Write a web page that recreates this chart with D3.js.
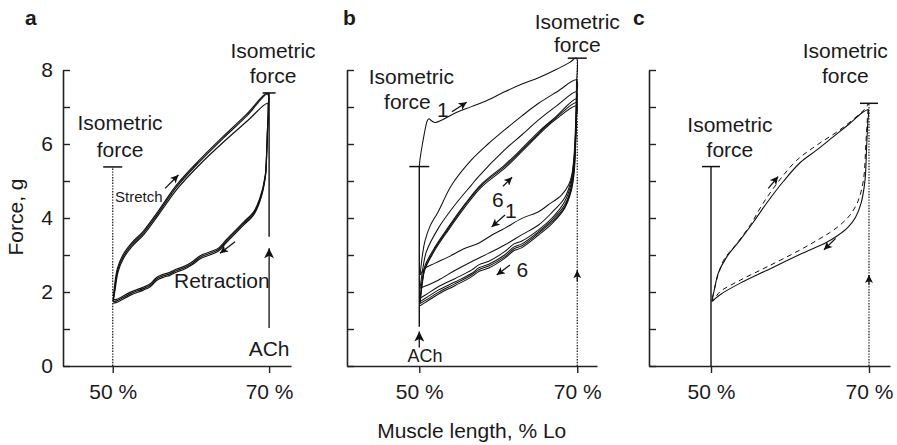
<!DOCTYPE html>
<html>
<head>
<meta charset="utf-8">
<script src="https://cdnjs.cloudflare.com/ajax/libs/d3/7.8.5/d3.min.js"></script>
<style>
    body { margin: 0; background: #fff; }
    svg text { font-family: "Liberation Sans", Arial, Helvetica, sans-serif; fill: #1a1a1a; }
</style>
</head>
<body>
<div id="chart"></div>
<script>
// muscle length (% Lo) / force (g) pairs
var xTicks = [50, 70];
var yTicks = [0, 1, 2, 3, 4, 5, 6, 7, 8];
var yLabels = [0, 2, 4, 6, 8];

// panel a: three superimposed stretch / retraction loops
var aLoop1 = [[50.05,1.74],[50.2,2.1],[50.6,2.64],[51.3,3.0],[52.4,3.32],[53.9,3.64],[55.8,4.18],[58.2,4.9],[61.1,5.57],[64.1,6.2],[67.1,6.8],[69.8,7.38],
    [69.9,7.0],[69.8,6.4],[69.7,5.8],[69.5,5.08],[68.8,4.44],[68.0,4.08],[66.7,3.8],[64.6,3.35],[63.6,3.12],[62.9,3.04],[61.2,2.9],[60.2,2.74],[59.0,2.6],[58.2,2.54],[57.3,2.45],[56.5,2.4],[55.6,2.31],[54.8,2.14],[53.9,2.05],[52.2,1.91],[50.5,1.72],[50.05,1.7]];
var aLoop2 = [[50.05,1.76],[50.25,2.08],[50.65,2.6],[51.35,2.96],[52.45,3.28],[53.95,3.6],[55.85,4.14],[58.25,4.86],[61.15,5.53],[64.15,6.16],[67.15,6.76],[69.8,7.35],
    [69.9,6.95],[69.8,6.4],[69.7,5.82],[69.5,5.1],[68.8,4.48],[68.0,4.12],[66.7,3.84],[64.6,3.39],[63.6,3.16],[62.9,3.08],[61.2,2.94],[60.2,2.78],[59.0,2.64],[58.2,2.58],[57.3,2.49],[56.5,2.44],[55.6,2.35],[54.8,2.18],[53.9,2.09],[52.2,1.95],[50.5,1.76],[50.05,1.74]];
var aLoop3 = [[50.1,1.8],[50.3,2.06],[50.7,2.56],[51.4,2.92],[52.5,3.24],[54.0,3.56],[55.9,4.1],[58.3,4.8],[61.2,5.46],[64.2,6.06],[67.2,6.62],[69.8,7.1],
    [69.9,6.9],[69.8,6.4],[69.7,5.84],[69.5,5.14],[68.8,4.52],[68.0,4.16],[66.7,3.88],[64.6,3.43],[63.6,3.2],[62.9,3.12],[61.2,2.98],[60.2,2.82],[59.0,2.68],[58.2,2.62],[57.3,2.53],[56.5,2.48],[55.6,2.39],[54.8,2.22],[53.9,2.13],[52.2,1.99],[50.5,1.8],[50.1,1.8]];

// panel b: six successive loops (1 = first stretch from isometric force)
var bLoop1 = [[50,5.39],[50.1,5.6],[50.4,6.0],[50.7,6.35],[51.0,6.62],[51.2,6.68],[51.6,6.62],[52.0,6.58],[52.8,6.64],[54.5,6.83],[56.6,7.01],[58.7,7.19],[60.8,7.41],[63.0,7.62],[65.1,7.79],[67.2,8.0],[69.0,8.2],[69.9,8.32],
    [69.9,7.6],[69.8,6.6],[69.6,5.7],[69.3,5.15],[68.9,4.89],[68.0,4.62],[66.3,4.35],[65.1,4.17],[63.0,3.99],[60.8,3.72],[59.2,3.54],[57.5,3.32],[55.8,3.18],[53.7,2.95],[52.0,2.78],[50.7,2.64],[50.1,2.46]];
var bLoop2 = [[50.1,2.46],[50.4,3.0],[50.7,3.36],[51.4,3.8],[52.4,4.17],[54.1,4.89],[56.6,5.57],[58.7,6.0],[60.8,6.38],[63.0,6.76],[65.1,7.1],[67.5,7.42],[69.9,7.73],
    [69.9,7.2],[69.8,6.4],[69.6,5.6],[69.2,5.0],[68.4,4.54],[66.8,4.15],[65.1,3.81],[63.0,3.55],[60.8,3.27],[58.8,3.05],[56.6,2.82],[54.5,2.58],[52.4,2.32],[51.0,2.18],[50.1,2.1]];
var bLoop3 = [[50.1,2.1],[50.5,2.7],[50.9,3.09],[52.4,3.72],[54.5,4.35],[56.6,4.89],[57.5,5.12],[60.8,5.84],[63.0,6.25],[65.1,6.65],[67.5,7.05],[69.9,7.41],
    [69.9,7.0],[69.8,6.3],[69.6,5.5],[69.2,4.9],[68.4,4.44],[66.8,4.0],[65.1,3.68],[63.0,3.38],[62.0,3.3],[60.8,3.09],[58.8,2.83],[57.6,2.74],[56.6,2.59],[54.5,2.36],[52.4,2.14],[51.0,1.95],[50.1,1.83]];
var bLoop4 = [[50.1,1.83],[50.4,2.35],[50.7,2.7],[52.0,3.22],[53.7,3.76],[55.8,4.38],[57.9,4.92],[60.8,5.43],[63.0,5.88],[65.1,6.33],[67.2,6.72],[69.9,7.22],
    [69.9,6.9],[69.8,6.2],[69.6,5.4],[69.2,4.8],[68.4,4.35],[66.8,3.95],[65.1,3.63],[63.0,3.3],[62.0,3.22],[60.8,3.0],[58.8,2.75],[57.6,2.66],[56.6,2.5],[54.5,2.27],[52.4,2.05],[51.0,1.86],[50.1,1.74]];
var bLoop5 = [[50.1,1.74],[50.4,2.3],[50.7,2.64],[52.0,3.18],[53.7,3.72],[55.8,4.35],[57.9,4.89],[60.8,5.39],[63.0,5.84],[65.1,6.29],[67.2,6.69],[69.9,7.12],
    [69.9,6.8],[69.8,6.1],[69.6,5.3],[69.2,4.75],[68.4,4.3],[66.8,3.9],[65.1,3.59],[63.0,3.25],[62.0,3.17],[60.8,2.95],[58.8,2.7],[57.6,2.61],[56.6,2.46],[54.5,2.22],[52.4,1.99],[51.0,1.8],[50.1,1.69]];
var bLoop6 = [[50.1,1.69],[50.4,2.25],[50.7,2.6],[52.0,3.14],[53.7,3.68],[55.8,4.3],[57.9,4.84],[60.8,5.34],[63.0,5.8],[65.1,6.25],[67.2,6.65],[69.9,7.03],
    [69.9,6.7],[69.8,6.0],[69.6,5.2],[69.2,4.7],[68.4,4.26],[66.8,3.85],[65.1,3.54],[63.0,3.2],[62.0,3.12],[60.8,2.91],[58.8,2.65],[57.6,2.56],[56.6,2.41],[54.5,2.17],[52.4,1.94],[51.0,1.75],[50.1,1.63]];

// panel c: solid and dashed loop
var cSolid = [[50.1,1.74],[50.5,2.14],[50.9,2.5],[52.0,2.95],[53.7,3.41],[55.4,3.9],[57.1,4.42],[59.2,5.0],[61.3,5.5],[63.4,5.84],[65.5,6.2],[67.6,6.56],[69.3,6.87],[69.9,6.92],
    [69.85,6.6],[69.7,5.93],[69.5,5.03],[69.0,4.4],[68.3,4.02],[67.3,3.74],[66.0,3.52],[64.6,3.34],[61.3,3.02],[57.1,2.59],[53.7,2.24],[51.1,1.92],[50.1,1.74]];
var cDashed = [[50.2,1.85],[50.7,2.32],[51.6,2.86],[53.3,3.32],[55.0,3.82],[56.6,4.4],[58.7,5.03],[60.8,5.55],[63.4,5.97],[66.3,6.38],[68.9,6.83],[69.7,7.0],[69.9,7.1],
    [69.8,6.7],[69.6,6.0],[69.3,5.03],[68.6,4.45],[67.6,4.08],[66.4,3.82],[65.0,3.6],[63.6,3.42],[61.3,3.14],[57.1,2.68],[53.7,2.32],[51.1,2.0],[50.3,1.78],[50.2,1.85]];

// isometric force levels at 50 % and 70 %
var isoLeft = [5.38, 5.39, 5.39];
var isoRight = [7.38, 8.32, 7.1];

var W = 897, H = 445;
var FS = 21;
var svg = d3.select("#chart").append("svg")
    .attr("width", W)
    .attr("height", H);

var defs = svg.append("defs");
function addHead(id, w, h) {
    defs.append("marker")
        .attr("id", id)
        .attr("viewBox", "0 0 10 10")
        .attr("refX", 10).attr("refY", 5)
        .attr("markerUnits", "userSpaceOnUse")
        .attr("markerWidth", w).attr("markerHeight", h)
        .attr("orient", "auto")
        .append("path")
        .attr("d", "M0,0L10,5L0,10L2.5,5Z")
        .attr("fill", "#111");
}
addHead("headBig", 11, 10);
addHead("headSmall", 9, 8);

Panel = function(_id, _cfg) {
    this.id = _id;
    this.cfg = _cfg;
    this.initVis();
};

Panel.prototype.initVis = function() {
    var vis = this;

    vis.x = d3.scaleLinear().domain(vis.cfg.xDomain).range(vis.cfg.xRange);
    vis.y = d3.scaleLinear().domain([0, 8]).range([366, 70]);
    vis.g = svg.append("g").attr("class", "panel-" + vis.id);

    var xAxis = d3.axisBottom(vis.x)
        .tickValues(xTicks)
        .tickSize(7).tickSizeOuter(0).tickPadding(11)
        .tickFormat(function(d) { return d + " %"; });

    var yAxis = d3.axisLeft(vis.y)
        .tickValues(yTicks)
        .tickSize(-7).tickSizeOuter(0).tickPadding(10)
        .tickFormat(function(d) {
            return (vis.cfg.yLabels && yLabels.indexOf(d) >= 0) ? d : "";
        });

    var gx = vis.g.append("g").attr("transform", "translate(0," + vis.y(0) + ")").call(xAxis);
    var gy = vis.g.append("g").attr("transform", "translate(" + vis.cfg.xRange[0] + ",0)").call(yAxis);

    [gx, gy].forEach(function(ax) {
        ax.select(".domain").attr("stroke", "#222").attr("stroke-width", 1.6);
        ax.selectAll(".tick line").attr("stroke", "#222").attr("stroke-width", 1.4);
        ax.selectAll("text").attr("font-size", FS + "px").attr("font-family", null).attr("fill", "#1a1a1a");
    });

    vis.g.append("text")
        .attr("x", vis.cfg.letter[0]).attr("y", vis.cfg.letter[1])
        .attr("font-size", "21px").attr("font-weight", "bold")
        .text(vis.id);

    vis.line = d3.line()
        .x(function(d) { return vis.x(d[0]); })
        .y(function(d) { return vis.y(d[1]); })
        .curve(d3.curveCatmullRom.alpha(0.5));
};

Panel.prototype.vline = function(p, f0, f1, style) {
    var vis = this;
    var l = vis.g.append("line")
        .attr("x1", vis.x(p)).attr("x2", vis.x(p))
        .attr("y1", vis.y(f0)).attr("y2", vis.y(f1))
        .attr("stroke", "#111").attr("stroke-width", style === "dot" ? 1.2 : 1.4);
    if (style === "dot") l.attr("stroke-dasharray", "1.4,1.4");
    return l;
};

Panel.prototype.cap = function(p, f, half) {
    var vis = this;
    vis.g.append("line")
        .attr("x1", vis.x(p) - half).attr("x2", vis.x(p) + half)
        .attr("y1", vis.y(f)).attr("y2", vis.y(f))
        .attr("stroke", "#111").attr("stroke-width", 1.5);
};

Panel.prototype.arrow = function(p0, f0, p1, f1, head) {
    var vis = this;
    vis.g.append("line")
        .attr("x1", vis.x(p0)).attr("y1", vis.y(f0))
        .attr("x2", vis.x(p1)).attr("y2", vis.y(f1))
        .attr("stroke", "#111").attr("stroke-width", 1.3)
        .attr("marker-end", "url(#" + head + ")");
};

Panel.prototype.label = function(p, f, txt, size, anchor) {
    var vis = this;
    vis.g.append("text")
        .attr("x", vis.x(p)).attr("y", vis.y(f))
        .attr("font-size", (size || FS) + "px")
        .attr("text-anchor", anchor || "middle")
        .text(txt);
};

Panel.prototype.drawLoops = function(loops, dash, width) {
    var vis = this;
    vis.g.selectAll(".loop" + (dash ? "-d" : ""))
        .data(loops)
        .enter().append("path")
        .attr("class", "loop" + (dash ? "-d" : ""))
        .attr("d", vis.line)
        .attr("fill", "none")
        .attr("stroke", "#111")
        .attr("stroke-width", width || 1.1)
        .attr("stroke-dasharray", dash || null);
};

// ---- panel a
var pa = new Panel("a", { xDomain: [43.64, 72.8], xRange: [63, 291], yLabels: true, letter: [25, 25] });
pa.vline(50, 0, isoLeft[0], "dot");
pa.cap(50, isoLeft[0], 9.5);
pa.label(50.93, 6.38, "Isometric");
pa.label(50.93, 5.65, "force");
pa.vline(70, isoRight[0], 3.49, "solid");
pa.cap(70, isoRight[0], 6.5);
pa.label(70.5, 8.32, "Isometric");
pa.label(70.5, 7.65, "force");
pa.arrow(70, 1.03, 70, 3.18, "headBig");
pa.label(70, 0.27, "ACh");
pa.drawLoops([aLoop1, aLoop2, aLoop3], null, 1.2);
pa.label(50.3, 4.43, "Stretch", 15, "start");
pa.arrow(56.7, 4.8, 58.4, 5.16, "headSmall");
pa.label(57.84, 2.11, "Retraction", FS, "start");
pa.arrow(65.64, 3.36, 63.72, 3.05, "headSmall");

// ---- panel b
var pb = new Panel("b", { xDomain: [40.85, 72.5], xRange: [347, 597], yLabels: false, letter: [343, 25] });
pb.vline(50, isoLeft[1], 1.06, "solid");
pb.cap(50, isoLeft[1], 10);
pb.label(48.99, 7.62, "Isometric");
pb.label(48.5, 6.95, "force");
pb.vline(70, 0, isoRight[1], "dot");
pb.cap(70, isoRight[1], 9.5);
pb.label(70, 9.11, "Isometric");
pb.label(70, 8.49, "force");
pb.arrow(70, 2.3, 70, 2.59, "headSmall");
pb.arrow(50, 0.5, 50, 0.93, "headBig");
pb.label(50.72, 0.12, "ACh", 18);
pb.drawLoops([bLoop1, bLoop2, bLoop3, bLoop4, bLoop5, bLoop6], null, 1.05);
pb.label(52.97, 6.74, "1");
pb.arrow(54.14, 6.87, 56.0, 7.13, "headSmall");
pb.label(59.96, 4.3, "6");
pb.arrow(60.6, 4.86, 61.75, 5.1, "headSmall");
pb.label(61.6, 4.0, "1");
pb.arrow(60.85, 4.08, 59.16, 3.76, "headSmall");
pb.label(63.04, 2.41, "6");
pb.arrow(61.48, 2.73, 59.8, 2.46, "headSmall");

// ---- panel c
var pc = new Panel("c", { xDomain: [42.15, 72.66], xRange: [649, 890], yLabels: false, letter: [633, 25] });
pc.vline(50, 0, isoLeft[2], "solid");
pc.cap(50, isoLeft[2], 9);
pc.label(52.4, 6.33, "Isometric");
pc.label(52.4, 5.66, "force");
pc.vline(70, 0, isoRight[2], "dot");
pc.cap(70, isoRight[2], 9);
pc.label(67.0, 8.32, "Isometric");
pc.label(67.0, 7.65, "force");
pc.arrow(70, 2.2, 70, 2.46, "headSmall");
pc.drawLoops([cSolid], null, 1.1);
pc.drawLoops([cDashed], "5,4", 1.0);
pc.arrow(57.25, 4.8, 58.5, 5.12, "headSmall");
pc.arrow(65.78, 3.45, 64.3, 3.14, "headSmall");

// shared axis titles
svg.append("text")
    .attr("x", 471.7).attr("y", 438)
    .attr("font-size", FS + "px").attr("text-anchor", "middle")
    .text("Muscle length, % Lo");

svg.append("text")
    .attr("transform", "translate(23,217) rotate(-90)")
    .attr("font-size", FS + "px").attr("text-anchor", "middle")
    .text("Force, g");
</script>
</body>
</html>
